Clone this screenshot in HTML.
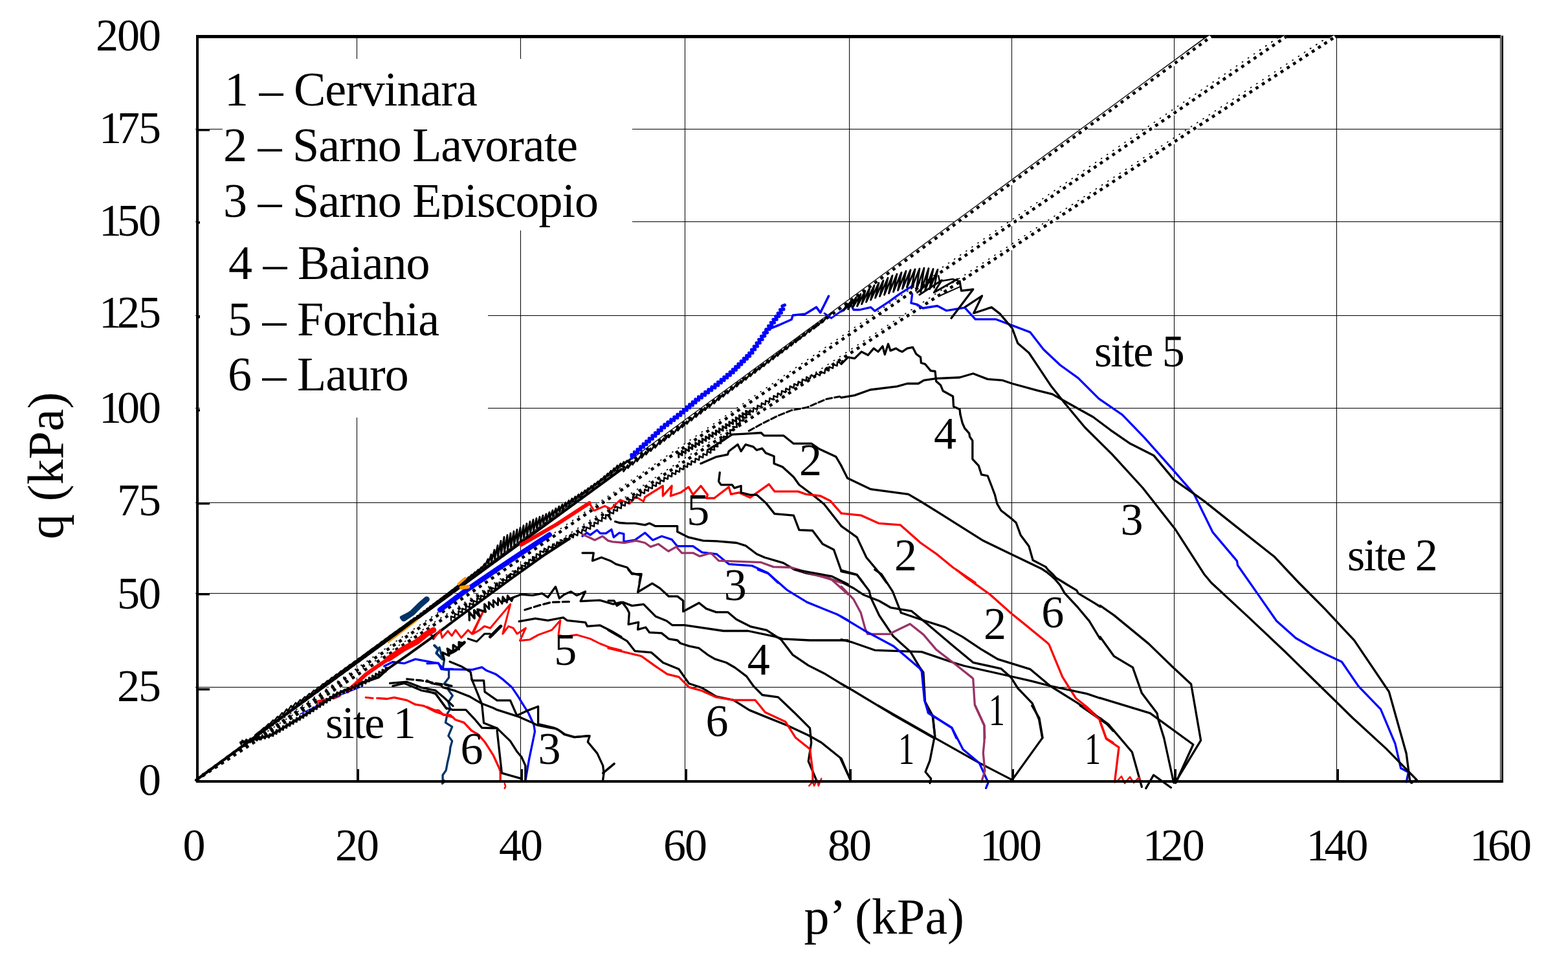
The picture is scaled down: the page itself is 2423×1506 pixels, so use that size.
<!DOCTYPE html><html><head><meta charset="utf-8"><title>q-p plot</title><style>html,body{margin:0;padding:0;background:#fff;}svg{display:block;}text{font-family:"Liberation Serif","Times New Roman",serif;fill:#000;}</style></head><body>
<svg xmlns="http://www.w3.org/2000/svg" width="2423" height="1506" viewBox="0 0 2423 1506">
<rect x="0" y="0" width="2423" height="1506" fill="#fff"/>
<g fill="#000"><rect x="551" y="59" width="1" height="1146"/><rect x="804" y="59" width="1" height="1146"/><rect x="1058" y="59" width="1" height="1146"/><rect x="1312" y="59" width="1" height="1146"/><rect x="1563" y="59" width="1" height="1146"/><rect x="1814" y="59" width="1" height="1146"/><rect x="2065" y="59" width="1" height="1146"/><rect x="2318" y="59" width="1" height="1146"/><rect x="302" y="199" width="2018" height="1"/><rect x="302" y="342" width="2018" height="1"/><rect x="302" y="487" width="2018" height="1"/><rect x="302" y="630" width="2018" height="1"/><rect x="302" y="776" width="2018" height="1"/><rect x="302" y="916" width="2018" height="1"/><rect x="302" y="1061" width="2018" height="1"/></g>
<g fill="#000"><rect x="551" y="1188" width="4" height="17"/><rect x="804" y="1188" width="4" height="17"/><rect x="1058" y="1188" width="4" height="17"/><rect x="1312" y="1188" width="4" height="17"/><rect x="1563" y="1188" width="4" height="17"/><rect x="1814" y="1188" width="4" height="17"/><rect x="2065" y="1188" width="4" height="17"/><rect x="305" y="199" width="19" height="3.5"/><rect x="305" y="342" width="19" height="3.5"/><rect x="305" y="488" width="19" height="3.5"/><rect x="305" y="632" width="19" height="3.5"/><rect x="305" y="776" width="19" height="3.5"/><rect x="305" y="916" width="19" height="3.5"/><rect x="305" y="1063" width="19" height="3.5"/></g>
<g fill="#fff"><rect x="344" y="91" width="633" height="265"/><rect x="309" y="300" width="668" height="56"/><rect x="309" y="356" width="445" height="289"/></g>
<defs><clipPath id="ctop"><rect x="0" y="40" width="2423" height="40"/></clipPath><clipPath id="cplot"><rect x="303" y="54" width="2020" height="1155"/></clipPath></defs>
<g clip-path="url(#cplot)"><g><line x1="303" y1="1205" x2="1871" y2="57" stroke="#fff" stroke-width="6"/><line x1="303" y1="1205" x2="1987" y2="57" stroke="#fff" stroke-width="6"/><line x1="303" y1="1205" x2="2063" y2="57" stroke="#fff" stroke-width="6"/><line x1="302" y1="1204" x2="1864" y2="57" stroke="#000" stroke-width="1.3"/><line x1="303" y1="1202" x2="1978" y2="56" stroke="#000" stroke-width="1.6" stroke-dasharray="2.5 8.5"/><line x1="303" y1="1202" x2="2054" y2="56" stroke="#000" stroke-width="1.6" stroke-dasharray="2.5 8.5"/><line x1="303" y1="1205" x2="1871" y2="57" stroke="#000" stroke-width="4.6" stroke-dasharray="4.8 6.7"/><line x1="303" y1="1205" x2="1987" y2="57" stroke="#000" stroke-width="4.6" stroke-dasharray="4.8 6.7"/><line x1="303" y1="1205" x2="2063" y2="57" stroke="#000" stroke-width="4.6" stroke-dasharray="4.8 6.7"/></g></g>
<polyline points="1300,481.1 1314.7,469.9 1319,478.5 1328.5,478.5 1345.7,474.6 1351.8,480.3 1374.2,465.6 1389.8,454.4 1411.4,440.6" fill="none" stroke="#0000ff" stroke-width="3.3" stroke-linejoin="round" stroke-linecap="round"/>
<polyline points="1409.6,454.4 1407.9,468.2 1417.4,470.4 1426,476 1448.5,472.5 1462.3,479.8 1490.8,475.1 1507.2,493.2 1539.1,493.2 1566.7,503.6 1591.8,513.1 1612.5,539.8 1638.4,564 1666,583.9 1698.1,615.8 1734.2,640.6 1768.1,675.6 1813.2,726.4 1844.8,762.6 1874.2,822.4 1911.4,866.4 1912.6,873.2 1944.2,918.4 1972.5,959 2002.6,985.8 2032.6,1003 2073.4,1022.3 2099.1,1059.9 2133.5,1095.3 2156,1148.9 2164.6,1186.5 2176.4,1192.9 2173.2,1207.9" fill="none" stroke="#0000ff" stroke-width="3.3" stroke-linejoin="round" stroke-linecap="round"/>
<polyline points="1483,434.5 1485.6,449.2 1503.7,447 1470,491.5" fill="none" stroke="#000" stroke-width="3.3" stroke-linejoin="round" stroke-linecap="round"/>
<polyline points="1491.6,474.2 1517.5,457 1504.6,483.7 1532.2,474.6 1545.1,484.6 1564.1,507 1572.8,530.3 1590,545 1603.8,565.7 1624.6,596.8 1645.3,622.7 1676.3,660 1718.4,701.6 1765.8,753.5 1815.5,816.7 1860.6,886.7 1871.7,900 1929.6,953.6 1985.4,1006.2 2039,1058.8 2090.6,1109.2 2142,1156.4 2189.3,1204.7 2180.7,1209" fill="none" stroke="#000" stroke-width="3.3" stroke-linejoin="round" stroke-linecap="round"/>
<polyline points="1300,614.1 1320.7,610.6 1344.9,602 1386.3,596.8 1401.9,592.5 1419.1,592.5 1427.8,587.3 1446.7,584.7 1483,583 1503.7,577 1526.2,585.6 1548.6,587.3 1564.1,592.5 1602.1,602.8 1626.3,608.9 1641.9,617.7 1666,631.3 1689,644 1716.1,664.3 1746.6,685.3 1782.7,703.4 1814.3,741.1 1844.8,762.6 1860.6,773.9 1910.3,813.4 1969,859.7 2006.9,900 2047.6,940.8 2092.7,989.1 2146.4,1068.5 2173.2,1164 2178.5,1204.7 2181.8,1209" fill="none" stroke="#000" stroke-width="3.3" stroke-linejoin="round" stroke-linecap="round"/>
<polyline points="1300,562.3 1310.4,551.9 1320.7,553.6 1331.1,543.3 1341.4,548.5 1350.1,538.1 1357,543.3 1363.9,534.7 1367.3,547.6 1372.5,531.2 1376,541.6 1384.6,538.1 1389.8,541.6 1394.1,543.3 1401.9,538.1 1410.5,536.4 1415.7,546.7 1422.6,551.9 1423.4,560.5 1429.5,562.3 1438.1,572.6 1445,573.5 1446.7,589 1453.6,595.1 1457.1,603.7 1472.6,612.3 1473.5,627.9 1483,632.2 1483.9,640" fill="none" stroke="#000" stroke-width="3.3" stroke-linejoin="round" stroke-linecap="round"/>
<polyline points="1700,935.4 1721.5,950.4 1775.1,994.4 1811.6,1029.8 1840.6,1056.7 1855.6,1143.6 1815.9,1209" fill="none" stroke="#000" stroke-width="3.3" stroke-linejoin="round" stroke-linecap="round"/>
<polyline points="1700,983.7 1721.5,1013.7 1750.4,1030.9 1764.4,1070.6 1788,1101.7 1790,1112 1798.7,1140 1813.7,1209" fill="none" stroke="#000" stroke-width="3.3" stroke-linejoin="round" stroke-linecap="round"/>
<polyline points="1700,1078.1 1777.3,1101.7 1843.8,1150 1817,1209" fill="none" stroke="#000" stroke-width="3.3" stroke-linejoin="round" stroke-linecap="round"/>
<polyline points="1700,1109.2 1712.9,1118.9 1749.4,1161.8 1764.4,1215.5" fill="none" stroke="#000" stroke-width="3.3" stroke-linejoin="round" stroke-linecap="round"/>
<polyline points="1700,1114.6 1709.7,1141.4 1729,1154.3 1722.5,1208" fill="none" stroke="#ff0000" stroke-width="3.3" stroke-linejoin="round" stroke-linecap="round"/>
<polyline points="1770.8,1217.6 1782.6,1197.2 1809.4,1216.5" fill="none" stroke="#000" stroke-width="3.3" stroke-linejoin="round" stroke-linecap="round"/>
<polyline points="1483.9,640 1487.3,653.8 1490.8,661.6 1497.7,669.3 1498.5,674.5 1502.8,680.6 1502.8,709.1 1512.3,719.4 1516.7,733.2 1526.2,735 1532.2,750.5 1537.4,764.3 1540.8,778.1 1546.9,788.5 1562.4,800.6 1570.2,807.5 1577.1,826.4 1590,843.7 1596.1,865.3 1615.9,875.6" fill="none" stroke="#000" stroke-width="3.3" stroke-linejoin="round" stroke-linecap="round"/>
<polyline points="1615.9,875.6 1619.5,880.2 1626.5,886.7 1632.1,892.8 1637.6,896 1649.7,903.5 1663.7,911.8 1666,916.3" fill="none" stroke="#000" stroke-width="3.3" stroke-linejoin="round" stroke-linecap="round"/>
<polyline points="1300,719.4 1309.5,738.4 1345.7,755.7 1403.6,763.4 1424.3,775.5 1456.2,795.4 1519.2,835.1 1564.1,856.7 1609,878.2" fill="none" stroke="#000" stroke-width="3.3" stroke-linejoin="round" stroke-linecap="round"/>
<polyline points="1609,878.2 1617.2,883.5 1624.2,889.1 1631.1,895.6 1638.1,903.9 1645.3,916.3" fill="none" stroke="#000" stroke-width="3.3" stroke-linejoin="round" stroke-linecap="round"/>
<polyline points="1300,792.8 1331.1,796.2 1357.8,808.3 1391.5,810.9 1422.6,838.5 1448.5,856.7 1472.6,876.5 1507.2,900" fill="none" stroke="#ff0000" stroke-width="3.3" stroke-linejoin="round" stroke-linecap="round"/>
<polyline points="1300,812.6 1324.2,829.9 1338.8,861 1360.4,886.9 1369.9,900" fill="none" stroke="#000" stroke-width="3.3" stroke-linejoin="round" stroke-linecap="round"/>
<polyline points="1300,880.8 1324.2,887.7 1333.7,900" fill="none" stroke="#000" stroke-width="3.3" stroke-linejoin="round" stroke-linecap="round"/>
<polyline points="1477.8,880 1493.4,892.1 1529.6,918 1562.4,947.3 1579.7,961.1 1617.7,992.2 1621.1,995.7 1641.8,1045.7 1662.5,1078.5 1679.8,1092.3 1700,1111.3" fill="none" stroke="#ff0000" stroke-width="3.3" stroke-linejoin="round" stroke-linecap="round"/>
<polyline points="1666,916.3 1691.9,931.8 1700,937" fill="none" stroke="#000" stroke-width="3.3" stroke-linejoin="round" stroke-linecap="round"/>
<polyline points="1645.3,916.3 1666,938.7 1683.3,959.4 1700,987" fill="none" stroke="#000" stroke-width="3.3" stroke-linejoin="round" stroke-linecap="round"/>
<polyline points="1300,882.6 1324.2,887.8 1343.2,912.8 1345.7,923.2 1358.7,950.8 1380.3,982.7 1407,1006.9 1420.8,1030.2 1426.9,1038.8 1429.5,1083.7 1441.6,1106.2 1445,1140" fill="none" stroke="#000" stroke-width="3.3" stroke-linejoin="round" stroke-linecap="round"/>
<polyline points="1351.8,880 1362.1,886.9 1379.4,913.7 1392.4,946.5" fill="none" stroke="#000" stroke-width="3.3" stroke-linejoin="round" stroke-linecap="round"/>
<polyline points="1300,899 1319,908.5 1334.5,918.8 1358.7,928.3 1376.8,938.7 1393.2,941.3 1408.8,943.9 1429.5,961.1 1472.6,997.4 1503.7,1023.3 1546.9,1032.8 1562.4,1046.6 1572.8,1063 1595.2,1086.3 1605.6,1111.3 1610.7,1140" fill="none" stroke="#000" stroke-width="3.3" stroke-linejoin="round" stroke-linecap="round"/>
<polyline points="1392.4,946.5 1427.8,958.5 1460.6,968.9 1487.3,983.6 1515.8,1002.6 1541.7,1018.1 1591.8,1033.6 1622.8,1059.5 1664.3,1085.4 1700,1109.6" fill="none" stroke="#000" stroke-width="3.3" stroke-linejoin="round" stroke-linecap="round"/>
<polyline points="1300,987.9 1317.3,992.2 1351.8,1004.3 1424.3,1006.9 1472.6,1023.3 1489.9,1028.5 1559,1044 1593.5,1051.8 1622.8,1059.5 1679.8,1071.6 1700,1078.5" fill="none" stroke="#000" stroke-width="3.3" stroke-linejoin="round" stroke-linecap="round"/>
<polyline points="1300,1056.1 1312.1,1063 1377.7,1102.7 1443.3,1140" fill="none" stroke="#000" stroke-width="3.3" stroke-linejoin="round" stroke-linecap="round"/>
<polyline points="1300,905.9 1319,925.7 1330.2,946.5 1337.1,971.5 1340.6,979.3 1375.1,979.3 1379.4,976.7 1406.2,963.7 1426.9,980.1 1446.7,1003.4 1472.6,1023.3 1502,1046.6 1503.7,1048.3 1506.3,1088.9 1521,1120.8 1521.8,1140" fill="none" stroke="#993366" stroke-width="3.3" stroke-linejoin="round" stroke-linecap="round"/>
<polyline points="1300,952.5 1334.5,973.2 1381.1,998.3 1420.8,1031.9 1424.3,1037.1 1428.6,1082 1434.7,1101 1470.9,1124.3 1477.8,1140" fill="none" stroke="#0000ff" stroke-width="3.3" stroke-linejoin="round" stroke-linecap="round"/>
<polyline points="1357.2,1090 1443.9,1139.4 1513.2,1178.4 1563.5,1204.4" fill="none" stroke="#000" stroke-width="3.3" stroke-linejoin="round" stroke-linecap="round"/>
<polyline points="1594.7,1090 1605.9,1109.1 1611.1,1139.4 1564.3,1204.4" fill="none" stroke="#000" stroke-width="3.3" stroke-linejoin="round" stroke-linecap="round"/>
<polyline points="1431.7,1090 1441.3,1107.3 1444.7,1136.8 1443,1143.7 1436.9,1174.9 1430,1192.3 1438.7,1202.7 1436.9,1209.6" fill="none" stroke="#000" stroke-width="3.3" stroke-linejoin="round" stroke-linecap="round"/>
<polyline points="1431.7,1090 1434.3,1101.3 1470.7,1123.8 1488.1,1157.6 1513.2,1178.4 1527.1,1208.7 1523.6,1217.4" fill="none" stroke="#0000ff" stroke-width="3.3" stroke-linejoin="round" stroke-linecap="round"/>
<polyline points="1507.1,1090 1521,1120.3 1521,1145.5 1519.3,1162.8 1521.9,1190.5 1516.7,1207.9" fill="none" stroke="#993366" stroke-width="3.3" stroke-linejoin="round" stroke-linecap="round"/>
<polyline points="1300,1171.5 1313,1202.7" fill="none" stroke="#000" stroke-width="3.3" stroke-linejoin="round" stroke-linecap="round"/>
<polyline points="1669.2,1090 1710.8,1118.6 1720,1129" fill="none" stroke="#000" stroke-width="3.3" stroke-linejoin="round" stroke-linecap="round"/>
<polyline points="1674.4,1090 1698.7,1110.8 1709.1,1140.3 1720,1147.2" fill="none" stroke="#ff0000" stroke-width="3.3" stroke-linejoin="round" stroke-linecap="round"/>
<polyline points="1093.4,695.2 1115.8,681.4 1131.3,671.1 1150.3,670.2 1176.2,668.5 1180.5,672.8 1210.7,672.8 1226.3,685.2 1253.9,685.2 1266,693.5 1291.9,705.6 1300,719.4" fill="none" stroke="#000" stroke-width="3.3" stroke-linejoin="round" stroke-linecap="round"/>
<polyline points="1083,716 1107.2,705.6 1124.4,702.1 1126.2,697 1140,686.6 1145.1,697 1152.1,686.6 1164.1,690.1 1169.3,695.2 1177.9,692.7 1183.1,699.6 1196.1,704.7 1196.1,716 1209,721.1 1226.3,736.7 1234.9,748.8 1255.6,764.3 1272.9,778.1 1300,812.6" fill="none" stroke="#000" stroke-width="3.3" stroke-linejoin="round" stroke-linecap="round"/>
<polyline points="996.7,767.8 1024.3,750.5 1024.3,766 1038.1,750.5 1036.4,766 1051.9,760.8 1064,752.2 1070.9,764.3 1083,750.5 1093.4,764.3 1091.6,769.5 1103.7,769.5 1126.2,752.2 1129.6,763.4 1141.7,760.8 1159,768.6 1188.3,747.9 1196.9,759.1 1233.2,759.1 1245.3,763.4 1267.7,766 1283.3,773.8 1300,792.8" fill="none" stroke="#ff0000" stroke-width="3.3" stroke-linejoin="round" stroke-linecap="round"/>
<polyline points="1112.3,729.8 1110.6,743.6 1114.1,748.8 1131.3,748.8 1134.8,753.9 1145.1,750.5 1145.1,760.8 1159,764.3 1169.3,764.3 1183.1,776.4 1196.9,793.6 1226.3,796.2 1234.9,818.7 1255.6,819.5 1271.2,840.3 1288.4,848.9 1300,881.7" fill="none" stroke="#000" stroke-width="3.3" stroke-linejoin="round" stroke-linecap="round"/>
<polyline points="957,807.5 969.1,808.3 981.1,808.3 996.7,810.9 1003.6,808.3 1012.2,812.6 1046.7,812.6 1046.7,821.3 1064,829.9 1086.4,835.1 1107.2,835.9 1138.2,838.5 1152.1,842.8 1169.3,855.8 1181.4,861 1210.7,869.6 1228,880 1245.3,885.1 1271.2,890.3 1300,900" fill="none" stroke="#000" stroke-width="3.3" stroke-linejoin="round" stroke-linecap="round"/>
<polyline points="939.7,795.4 944.9,804 957,807.5" fill="none" stroke="#000" stroke-width="3.3" stroke-linejoin="round" stroke-linecap="round" stroke-dasharray="8 8"/>
<polyline points="900,828.2 906.9,823 912.1,826.4 922.4,818.7 927.6,823.9 936.3,823.9 944.9,817.8 948.3,829.9 957,823 963.9,824.7 963.9,836.8 981.1,834.2 996.7,823 1008.8,834.2 1022.6,828.2 1038.1,833.4 1046.7,843.7 1070.9,843.7 1084.7,853.2 1107.2,855.8 1126.2,871.3 1162.4,873.9 1186.6,885.1 1202.1,900" fill="none" stroke="#0000ff" stroke-width="3.3" stroke-linejoin="round" stroke-linecap="round"/>
<polyline points="900,825.6 910.4,829.9 919,834.2 931.1,828.2 939.7,835.1 946.6,836.8 965.6,838.5 982.9,835.1 996.7,838.5 1005.3,844.6 1017.4,840.3 1032.9,851.5 1045,844.6 1053.6,854.1 1070.9,854.1 1081.3,859.2 1098.5,854.1 1110.6,866.2 1176.2,868.7 1195.2,875.6 1222.8,876.5 1245.3,883.4 1300,900" fill="none" stroke="#993366" stroke-width="3.3" stroke-linejoin="round" stroke-linecap="round"/>
<polyline points="900,854.1 917.3,854.1 915.5,866.2 929.3,861 943.2,866.2 951.8,871.3 969.1,876.5 976,885.1 989.8,888.6 988,900" fill="none" stroke="#000" stroke-width="3.3" stroke-linejoin="round" stroke-linecap="round"/>
<polyline points="303,1205 960,725" fill="none" stroke="#000" stroke-width="4.2" stroke-linejoin="round" stroke-linecap="round"/>
<polyline points="963,723.8 963.5,728.2 970,718.6 970.5,723 977,713.4 977.5,717.7 984,708.2 984.5,712.5 991,702.9 991.5,707.2 998,697.7 998.5,702 1005,692.5 1005.5,696.7 1012,687.2 1012.5,691.5 1019,682 1019.5,686.2 1026,676.8 1026.5,681 1033,671.6 1033.5,675.7 1040,666.3 1040.5,670.5 1047,661.1 1047.5,665.2 1054,655.9 1054.5,660 1061,650.7 1061.5,654.7 1068,645.4 1068.5,649.5 1075,640.2 1075.5,644.2 1082,635 1082.5,639 1089,629.7 1089.5,633.7 1096,624.5 1096.5,628.5 1103,619.3 1103.5,623.2 1110,614.1 1110.5,618 1117,608.8 1117.5,612.7 1124,603.6 1124.5,607.5 1131,598.4 1131.5,602.2 1138,593.2 1138.5,597 1145,587.9 1145.5,591.7 1152,582.7 1152.5,586.5 1159,577.5 1159.5,581.2 1166,572.3 1166.5,576 1173,567 1173.5,570.8 1180,561.8 1180.5,565.5 1187,556.6 1187.5,560.3 1194,551.3 1194.5,555 1201,546.1 1201.5,549.8 1208,540.9 1208.5,544.5 1215,535.7 1215.5,539.3 1222,530.4 1222.5,534 1229,525.2 1229.5,528.8 1236,520 1236.5,523.5 1243,514.8 1243.5,518.3 1250,509.5 1250.5,513 1257,504.3 1257.5,507.8 1264,499.1 1264.5,502.5 1271,493.9 1271.5,497.3 1278,488.6 1278.5,492 1285,483.4" fill="none" stroke="#000" stroke-width="2.8" stroke-linejoin="round" stroke-linecap="round"/>
<polyline points="634,961.6 634.5,958.8 639,957.7 639.5,955.2 644,953.8 644.5,951.5 649,949.9 649.5,947.8 654,946.1 654.5,944.2 659,942.2 659.5,940.5 664,938.3 664.5,936.8 669,934.4 669.5,933.1 674,930.5 674.5,929.5 679,926.6 679.5,925.8 684,922.7 684.5,922.1 689,918.9 689.5,918.5 694,915 694.5,914.8 699,911.1 699.5,911.1 704,907.2 704.5,907.4 709,903.3 709.5,903.8 714,899.4 714.5,900.1 719,895.5 719.5,896.4 724,891.6 724.5,892.8 729,887.7 729.5,889.1 734,883.8 734.5,885.4 739,879.9 739.5,881.7 744,876 744.5,878.1 749,870.8 749.5,874.4 754,863.6 754.5,870.7 759,856.3 759.5,867.1 764,849.3 764.5,863.4 769,842.4 769.5,859.7 774,835.5 774.5,856 779,829.4 779.5,852.4 784,826.5 784.5,848.7 789,823.6 789.5,845 794,820.7 794.5,841.4 799,817.8 799.5,837.7 804,814.9 804.5,834 809,811.7 809.5,830.3 814,808.6 814.5,826.7 819,805.5 819.5,823 824,802.7 824.5,819.3 829,800.5 829.5,815.7 834,798.3 834.5,812 839,796.1 839.5,808.3 844,793.9 844.5,804.6 849,791.2 849.5,801 854,788.2 854.5,797.3 859,785.2 859.5,793.6 864,782.1 864.5,790 869,779.1 869.5,786.3 874,776.1 874.5,782.6 879,773 879.5,778.9 884,769.9 884.5,775.3 889,766.9 889.5,771.6 894,763.8 894.5,767.9 899,760.7 899.5,764.3 904,757.5 904.5,760.6 909,754.1 909.5,756.9 914,750.6 914.5,753.2 919,747.1 919.5,749.6 924,743.7 924.5,745.9 929,739.7 929.5,742.2 934,735.5 934.5,738.6 939,731.4 939.5,734.9 944,727.2 944.5,731.2 949,723.1 949.5,727.5 954,718.9 954.5,723.9 959,715.9 959.5,720.2 964,713.6 964.5,716.5 969,711.4 969.5,712.9 974,709.2 974.5,709.2" fill="none" stroke="#000" stroke-width="2.8" stroke-linejoin="round" stroke-linecap="round"/>
<polyline points="680,942 720,912 767,880 803,856 849,826" fill="none" stroke="#0000ff" stroke-width="8" stroke-linejoin="round" stroke-linecap="round"/>
<polyline points="976.5,707.6 975.8,702.3 981,703.4 980.3,698.1 985.6,699.3 984.9,693.9 990.1,695.1 989.4,689.7 994.7,690.9 994,685.6 999.2,686.7 998.5,681.4 1003.8,682.4 1003.1,677.1 1008.5,678.1 1007.8,672.7 1013.1,673.8 1012.4,668.4 1017.7,669.5 1017,664.1 1022.4,665.1 1021.7,659.8 1026.8,660.9 1026.7,655.5 1031.9,657.1 1031.7,651.7 1036.9,653.2 1036.7,647.8 1041.9,649.4 1041.7,644 1046.9,645.5 1046.7,640.1 1051.9,641.7 1051.7,636.3 1056.8,637.7 1056.3,632.4 1061.4,633.8 1060.9,628.5 1066,629.9 1065.5,624.6 1070.6,626 1070.1,620.7 1075.2,622.1 1074.7,616.8 1079.8,618.2 1079.4,612.8 1084.6,614.5 1084.5,609 1089.7,610.6 1089.6,605.2 1094.8,606.8 1094.7,601.4 1099.9,603 1099.8,597.6 1105,599.2 1104.8,593.8 1109.9,595.3 1109.4,589.9 1114.6,591.4 1114.1,586.1 1119.2,587.5 1118.7,582.2 1123.8,583.6 1123.3,578.3 1128.5,579.8 1128,574.4 1133.3,575.8 1132.3,570.5 1137.5,571.5 1136.5,566.3 1141.8,567.3 1140.8,562 1146,563 1145.1,557.8 1150.3,558.8 1149.3,553.5 1154.6,554.5 1153.6,549.3 1158.8,550.3 1157.6,545.3 1163.1,545.3 1161.4,540.1 1166.8,540.1 1165.2,534.9 1170.6,534.9 1169,529.7 1174.4,529.7 1172.7,524.5 1178.2,524.5 1176.4,519.3 1181.9,519.2 1180.1,514 1185.6,513.9 1183.8,508.7 1189.3,508.6 1187.5,503.4 1193,503.3 1191.3,498.2 1196.6,498.5 1194.9,493.4 1200.3,493.6 1198.6,488.5 1203.9,488.8 1202.1,483.8 1207.6,483.4 1205.5,478.3 1211,477.9 1208.9,472.8 1212.5,471.2" fill="none" stroke="#0000ff" stroke-width="5" stroke-linejoin="round" stroke-linecap="round"/>
<polyline points="1182.7,510.5 1204,502 1223.1,493.5 1225.2,487.1 1244.4,485 1261.4,474.4 1267.7,482.9 1280.5,457.4" fill="none" stroke="#0000ff" stroke-width="3.5" stroke-linejoin="round" stroke-linecap="round"/>
<polyline points="1274,484 1284.7,491.4 1314.5,470.1" fill="none" stroke="#0000ff" stroke-width="3" stroke-linejoin="round" stroke-linecap="round"/>
<polyline points="805.5,841.4 860,810 910.7,776.9" fill="none" stroke="#ff0000" stroke-width="6" stroke-linejoin="round" stroke-linecap="round"/>
<polyline points="910.7,776.9 917.9,788.8 934.6,781.6 944,786 958.5,772.1 972.8,778.1 982.4,767.3 994.4,774.5 996.7,767.8" fill="none" stroke="#ff0000" stroke-width="3" stroke-linejoin="round" stroke-linecap="round"/>
<polyline points="697,958.1 697,952 702.8,954.1 702.8,948 708.5,950.1 708.5,944 714.2,946.1 714.2,940 720,942.1 720,936 725.7,938.1 725.7,932 731.4,934.1 731.5,927.9 737.2,930 737.2,923.9 742.9,926 742.9,919.9 748.7,922 748.7,915.9 754.4,918 754.4,911.9 760.1,914 760.1,907.9 765.9,910 765.8,903.9 771.7,905.7 771.5,899.5 777.4,901.3 777.3,895.1 783.2,896.9 783,890.7 788.9,892.5 788.7,886.3 794.6,888.1 794.5,882 800.4,883.7 800.2,877.6 806.1,879.3 805.9,873.2 811.8,874.9 811.7,868.8 817.6,870.6 817.4,864.4 823.3,866.2 823.1,860 829,861.8 828.9,855.6 834.8,857.4 834.6,851.2 840.1,853.2 841.1,847.1 846.6,850 847.7,843.9 853.2,846.7 854.2,840.6 859.7,843.4 860.7,837.3 866.2,840.2 867.2,834.1 872.7,836.9 873.7,830.8 879.2,833.7 880.2,827.6 885.7,830.4 886.8,824.3 892.3,827.1 893.3,821 898.8,823.9 899.8,817.8 905.3,820.6 906.3,814.5 912.1,817.2 912.3,811 918.1,813.2 918.3,807 924,809.2 924.3,803.1 930,805.2 930.2,799.1 936,801.2 936.2,795.1 942,797.3 942.2,791.1 947.9,793.3 948.2,787.1 953.9,789.3 954.1,783.1 959.9,785.3 960.1,779.2 965.9,781.3 966.1,775.2 971.8,777.3 972.1,771.2 977.8,773.4 978,767.2 983.7,769.4 984.1,763.3 989.7,765.8 990.1,759.7 995.8,762.1 996.2,756 1001.8,758.4 1002.2,752.3 1007.8,754.7 1008.2,748.6 1013.9,751 1014.3,744.9 1019.9,747.4 1020.3,741.3 1025.9,743.7 1026.3,737.6 1031.9,740 1032.4,733.9 1038,736.3 1038.4,730.2 1044,732.7 1044.4,726.6 1050,729 1050.5,722.9 1056.1,725.3 1056.5,719.2 1062.1,721.6 1062.5,715.5 1068.1,718 1068.5,711.9 1074.2,714.3 1074.6,708.2 1080.2,710.6 1080.6,704.5 1086.2,706.9 1086.6,700.8 1092.3,703.2 1092.7,697.1 1098.3,699.6 1098.2,693.8 1104.2,694.9 1103.2,688.9 1109.2,689.9 1108.1,683.9 1114.1,684.9 1113.1,678.9 1119.1,680 1118,674 1124,675 1123,669 1129,670 1127.9,664 1133.9,665.1 1132.9,659.1 1138.9,660.1 1137.8,654.1 1143.8,655.1 1142.8,649.1 1148.8,650.2 1147.7,644.2 1153.7,645.2 1152.7,639.2 1158.7,640.2 1158.1,633.9 1163.8,636.3 1164.4,630.1 1170.1,632.5 1170.6,626.3 1176.3,628.7 1176.9,622.6 1182.6,625 1183.1,618.8 1188.8,621.2 1189.3,615 1195,617.4 1195.6,611.3 1201.3,613.7 1201.8,607.5 1207.5,609.9 1208.1,603.7 1213.7,606.2 1214.5,600 1220.1,602.6 1220.8,596.5 1226.5,599.1 1227.2,592.9 1232.8,595.5 1233.6,589.4 1239.2,592 1239.9,585.8 1245.6,588.4 1246.3,582.3 1251.5,585.1 1253.8,579.1 1259.2,582.6 1261.4,576.5 1266.8,580 1268.6,574.3 1274.4,576.6 1275,570.4 1280.7,572.8 1281.3,566.6 1287.1,568.9 1287.7,562.7 1293.5,565.1 1294,558.9 1299.8,561.3 1301.7,557.2" fill="none" stroke="#000" stroke-width="2.5" stroke-linejoin="round" stroke-linecap="round"/>
<polyline points="1048.8,706.3 1048.4,699.6 1054.1,703.1 1053.6,696.4 1059.4,700 1058.9,693.2 1064.6,696.8 1064.2,690.1 1069.9,693.7 1069.4,686.9 1075.1,690.5 1074.7,683.8 1080.4,687.4 1079.9,680.6 1085.6,684.2 1085.2,677.5 1090.9,681.1 1090.4,674.3 1096.1,677.9 1095.7,671.2 1101.4,674.8 1100.9,668 1106.7,671.6 1106.2,664.9 1111.9,668.4 1111.3,661.8 1117.2,665.1 1116.5,658.4 1122.4,661.7 1121.7,655 1127.5,658.3 1126.8,651.6 1132.7,654.9 1132,648.2 1137.9,651.5 1137.1,644.8 1143,648.1 1142.3,641.4 1148.2,644.7 1147.4,638 1153.3,641.3 1152.6,634.6 1158.5,637.9 1159.4,633.7" fill="none" stroke="#000" stroke-width="3" stroke-linejoin="round" stroke-linecap="round"/>
<polyline points="1157.2,665.6 1176.4,655 1201.9,642.3 1223.1,633.7 1246.5,629.5 1261.4,623.1 1276.2,616.7 1297.5,612.5 1300,614.1" fill="none" stroke="#000" stroke-width="3" stroke-linejoin="round" stroke-linecap="round" stroke-dasharray="9 4"/>
<polyline points="1309,469 1303.5,479.9 1316,464.1 1310.5,477.6 1323,459.2 1317.5,475.3 1330,454.3 1324.5,473 1337,449.4 1331.5,469.9 1344,444.6 1338.5,466.6 1351,440.8 1345.5,463.3 1358,436.9 1352.5,460.2 1365,433.1 1359.5,457.8 1372,429.2 1366.5,455.5 1379,425.6 1373.5,453.2 1386,423.3 1380.5,450.9 1393,420.9 1387.5,448.5 1400,418.6 1394.5,446.2 1407,416.9 1401.5,443.9 1414,415.9 1408.5,445.7 1421,415 1415.5,449.2 1428,414 1422.5,451.2 1435,414.5 1429.5,448.9 1442,415.4 1436.5,446.6 1449,416.4 1443.5,444.3" fill="none" stroke="#000" stroke-width="2.8" stroke-linejoin="round" stroke-linecap="round"/>
<polyline points="1417.4,451.8 1443.3,429.3" fill="none" stroke="#000" stroke-width="3" stroke-linejoin="round" stroke-linecap="round"/>
<polyline points="1420.8,455.2 1455.4,432.8 1443.3,451.8 1479.5,431.1" fill="none" stroke="#000" stroke-width="3" stroke-linejoin="round" stroke-linecap="round"/>
<polyline points="1451.9,457 1483,443.2" fill="none" stroke="#000" stroke-width="2" stroke-linejoin="round" stroke-linecap="round"/>
<polyline points="1450.2,425.9 1451.9,434.5 1472.6,431.1 1483,434.5" fill="none" stroke="#000" stroke-width="2.5" stroke-linejoin="round" stroke-linecap="round"/>
<polyline points="971.1,880 976.7,886.7 991.2,886.7 985.6,914.5 1007.9,901.1 1020.1,908.9 1033.4,921.2 1046.8,921.2 1055.7,927.8 1055.7,944.5 1080.2,931.2 1091.3,940.1 1106.9,945.6 1124.6,945.6 1138,956.8 1160.2,967.9 1184.7,973.4 1207,987.9 1224.8,1011.3 1249.2,1027.9 1273.7,1040.2 1310,1062.4" fill="none" stroke="#000" stroke-width="3.3" stroke-linejoin="round" stroke-linecap="round"/>
<polyline points="940,927.8 948.9,927.8 953.3,935.6 962.2,930.1 976.7,935.6 994.5,933.4 1013.4,952.3 1030.1,959 1039,965.7 1057.9,965.7 1118,974.5 1155.8,974.5 1198.1,983.4 1209.2,986.8 1251.5,989 1310,989" fill="none" stroke="#000" stroke-width="3.3" stroke-linejoin="round" stroke-linecap="round"/>
<polyline points="940,973.4 968.9,990.1 981.2,1005.7 1006.7,1007.9 1024.5,1023.5 1049,1033.5 1064.6,1055.8 1084.6,1062.4 1106.9,1075.8 1133.5,1081.3 1158,1096.9 1182.5,1106.9 1215.9,1120.3 1249.2,1135.8 1269.3,1147 1298.2,1170.3 1310,1195.9" fill="none" stroke="#000" stroke-width="3.3" stroke-linejoin="round" stroke-linecap="round"/>
<polyline points="962.2,931.2 968.9,940.1 972.3,946.7 971.1,964.5 986.7,961.2 985.6,972.3 997.8,969 1003.4,976.8 1022.3,977.9 1033.4,986.8 1046.8,989 1051.2,993.5 1064.6,997.9 1080.2,1001.2 1093.5,1011.3 1104.6,1017.9 1122.4,1023.5 1135.8,1031.3 1153.6,1044.6 1164.7,1060.2 1178,1073.5 1202.5,1076.9 1227,1100.2 1251.5,1124.7 1253.7,1147 1249.2,1175.9 1255.9,1191.5 1261.5,1204.8" fill="none" stroke="#000" stroke-width="3.3" stroke-linejoin="round" stroke-linecap="round"/>
<polyline points="940,1001.2 991.2,1013.5 1011.2,1027.9 1031.2,1041.3 1049,1045.7 1064.6,1061.3 1084.6,1066.9 1106.9,1076.9 1133.5,1081.3 1166.9,1081.3 1182.5,1100.2 1213.6,1114.7 1229.2,1139.2 1251.5,1157 1255.9,1191.5 1255.9,1209.3" fill="none" stroke="#ff0000" stroke-width="3.3" stroke-linejoin="round" stroke-linecap="round"/>
<polyline points="1250.3,1213.7 1255.9,1207 1258.1,1213.7 1262.6,1204.8 1264.8,1213.7 1269.3,1202.6" fill="none" stroke="#ff0000" stroke-width="2.5" stroke-linejoin="round" stroke-linecap="round"/>
<polyline points="1171.4,880 1186.9,885.6 1215.9,911.1 1247,930.1 1293.7,949 1310,957.9" fill="none" stroke="#0000ff" stroke-width="3.3" stroke-linejoin="round" stroke-linecap="round"/>
<polyline points="1229.2,880 1280.4,891.1 1310,917.8" fill="none" stroke="#993366" stroke-width="3.3" stroke-linejoin="round" stroke-linecap="round"/>
<polyline points="1229.2,880 1284.8,890 1310,902.2" fill="none" stroke="#000" stroke-width="3.3" stroke-linejoin="round" stroke-linecap="round"/>
<polyline points="683.4,1210.3 687.7,1206.7 684.1,1204.5 684.1,1197.2 689.2,1189.9 691.4,1178.2 695.1,1162.1 695.8,1154.8 698.7,1144.6 692.9,1136.6 698.7,1122.7 688.5,1116.1 691.4,1102.2 695.8,1094.9 692.9,1084.7 699.4,1074.5 692.9,1065.7 693.6,1058.4 686.3,1056.2 693.6,1046.7 693.6,1035.1 684.1,1033.6 686.3,1020.4 683.4,1016.1 679,1000" fill="none" stroke="#003366" stroke-width="3.3" stroke-linejoin="round" stroke-linecap="round"/>
<polyline points="660,1092 671.7,1097.1 677.5,1097.1 685.6,1104.4 695.8,1104.4 703.8,1111.7 717,1116.1 728.6,1128.5 738.9,1134.4 749.1,1146 754.9,1154.8 762.2,1166.5 771,1185.5 773.2,1191.3 773.2,1207.4" fill="none" stroke="#ff0000" stroke-width="3.3" stroke-linejoin="round" stroke-linecap="round"/>
<polyline points="779.8,1210.3 781.2,1214.7 779.8,1217.6" fill="none" stroke="#ff0000" stroke-width="2.5" stroke-linejoin="round" stroke-linecap="round"/>
<polyline points="660,1024.8 677.5,1024.1 681.9,1033.6 730.1,1034.3 744.7,1030.7 752,1035.8 766.6,1041.6 778.3,1050.4 791.4,1062.1 801.7,1077.4 806,1084.7 816.3,1100.8 825,1119.8 826.5,1130 817.7,1172.3 811.9,1205.9" fill="none" stroke="#0000ff" stroke-width="3.3" stroke-linejoin="round" stroke-linecap="round"/>
<polyline points="660,1067.2 673.1,1071.6 689.2,1093.5 699.4,1096.4 719.9,1096.4 733,1110.3 744.7,1124.1 768.1,1124.9 788.5,1144.6 798.7,1160.7 806,1169.4 811.9,1182.6 811.9,1204.5" fill="none" stroke="#000" stroke-width="3.3" stroke-linejoin="round" stroke-linecap="round"/>
<polyline points="660,1051.1 667.3,1055.5 681.9,1058.4 683.4,1061.3 703.8,1067.2 725.7,1075.9 743.2,1086.2 762.2,1093.5 768.1,1096.4 800.2,1106.6 820.7,1115.4 829.4,1119.8 849.9,1124.1 860.1,1125.6 873.2,1134.4 887.8,1138.7 908.3,1136.6" fill="none" stroke="#000" stroke-width="3.3" stroke-linejoin="round" stroke-linecap="round"/>
<polyline points="695.1,1021.9 712.6,1029.2 727.2,1038 729.4,1051.1 747.6,1051.1 749.1,1068.6 768.1,1081.8 788.5,1081.8 798.7,1105.2 816.3,1097.1 831.6,1091.3 831.6,1118.3 855.7,1124.1 864.5,1128.5 871.8,1134.4 887.8,1138.7 911.2,1136.6 908.3,1146 922.9,1163.6 931.7,1182.6 933.1,1194.2 931.7,1204.5" fill="none" stroke="#000" stroke-width="3.3" stroke-linejoin="round" stroke-linecap="round"/>
<polyline points="931.7,1194.2 949.2,1179.6" fill="none" stroke="#000" stroke-width="3.5" stroke-linejoin="round" stroke-linecap="round"/>
<polyline points="728.6,1048.2 744.7,1087.6 747.6,1116.8 768.1,1124.9" fill="none" stroke="#000" stroke-width="3.3" stroke-linejoin="round" stroke-linecap="round"/>
<polyline points="768.1,1128.5 775.4,1194.2 804.6,1202.3" fill="none" stroke="#000" stroke-width="3.3" stroke-linejoin="round" stroke-linecap="round"/>
<polyline points="565.2,1077.3 576.2,1078.4" fill="none" stroke="#ff0000" stroke-width="3" stroke-linejoin="round" stroke-linecap="round"/>
<polyline points="582.7,1078.4 598.1,1079.5 609,1077.3 628.8,1081.6 641.9,1088.2 655.1,1090.4 672.6,1099.2 685.8,1103.6 700,1107.9" fill="none" stroke="#ff0000" stroke-width="3.3" stroke-linejoin="round" stroke-linecap="round"/>
<polyline points="602.5,1055.3 628.8,1053.2 650.7,1061.9 672.6,1066.3 685.8,1077.3 700,1090.4" fill="none" stroke="#000" stroke-width="3.3" stroke-linejoin="round" stroke-linecap="round"/>
<polyline points="606.8,1059.7 624.4,1055.3 650.7,1066.3 672.6,1070.7 690.1,1094.8" fill="none" stroke="#000" stroke-width="3.3" stroke-linejoin="round" stroke-linecap="round"/>
<polyline points="593.7,1029 606.8,1022.5 624.4,1024.7 641.9,1018.1 677,1024.7 685.8,1033.4 700,1033.4" fill="none" stroke="#0000ff" stroke-width="3.3" stroke-linejoin="round" stroke-linecap="round"/>
<polyline points="628.8,1048.8 650.7,1051 672.6,1055.3 700,1059.7" fill="none" stroke="#000" stroke-width="3.3" stroke-linejoin="round" stroke-linecap="round" stroke-dasharray="10 5"/>
<polyline points="623.8,955.4 637.1,946.5 649,934.6 659.4,925.7" fill="none" stroke="#003366" stroke-width="9" stroke-linejoin="round" stroke-linecap="round"/>
<polyline points="620.8,953.9 629.7,949.4" fill="none" stroke="#003366" stroke-width="6" stroke-linejoin="round" stroke-linecap="round"/>
<polyline points="662.4,973.2 669.8,986.6" fill="none" stroke="#003366" stroke-width="4" stroke-linejoin="round" stroke-linecap="round"/>
<polyline points="671.3,997 677.3,1002.9 674.3,1008.9 683.2,1017.8" fill="none" stroke="#003366" stroke-width="4" stroke-linejoin="round" stroke-linecap="round"/>
<polyline points="708.5,901.9 718.9,893" fill="none" stroke="#ff9900" stroke-width="4" stroke-linejoin="round" stroke-linecap="round"/>
<polyline points="712.9,907.8 723.3,906.3" fill="none" stroke="#ff9900" stroke-width="6" stroke-linejoin="round" stroke-linecap="round"/>
<polyline points="600,992.5 644.6,958.3" fill="none" stroke="#ff9900" stroke-width="2" stroke-linejoin="round" stroke-linecap="round"/>
<polyline points="372,1147 418,1136 470,1105 519,1073 550,1058 585,1046 600,1032.6 629.7,1011.8 666.9,985.1 704,956.9 748.6,924.2 793.1,891.5 840,858 880,832" fill="none" stroke="#000" stroke-width="4" stroke-linejoin="round" stroke-linecap="round"/>
<polyline points="600,1017.8 622.3,1002.9 644.6,991 659.4,979.1 669.8,973.2" fill="none" stroke="#ff0000" stroke-width="9" stroke-linejoin="round" stroke-linecap="round"/>
<polyline points="671.3,985.1 680.2,973.2 683.2,985.1 692.1,974.7 698.1,982.1 704,973.2 712.9,985.1 723.3,973.2 729.3,979.1 733.7,970.2 747.1,943.5 730.7,979.1 741.1,973.2 748.6,967.3 757.5,970.2 766.4,959.8 788.7,933.1 776.8,979.1 785.7,967.3 793.1,970.2 799.1,979.1 812.4,970.2 803.5,989.5 818.4,988.1 831.8,980.6 852.6,973.2 865.9,958.3 863,980.6 871.9,983.6 891.2,980.6 912,986.6 926.8,994 941.7,999.9 960,1004.4" fill="none" stroke="#ff0000" stroke-width="3" stroke-linejoin="round" stroke-linecap="round"/>
<polyline points="778.3,928.6 805,918.2 822.8,919.7 837.7,916.7 846.6,922.7 858.5,906.3 864.4,924.2 871.9,918.2 882.3,913.8 891.2,919.7 904.6,913.8 897.1,928.6 926.8,927.1 947.6,933.1 960,930.1" fill="none" stroke="#000" stroke-width="3.3" stroke-linejoin="round" stroke-linecap="round"/>
<polyline points="811,942 834.7,934.6 852.6,930.1 882.3,929.4" fill="none" stroke="#000" stroke-width="3.3" stroke-linejoin="round" stroke-linecap="round" stroke-dasharray="10 5"/>
<polyline points="802.1,959.8 827.3,955.4 846.6,958.3 870.4,953.9 876.3,958.3 904.6,961.3 907.5,967.3 926.8,965.8 944.7,974.7 960,983.6" fill="none" stroke="#000" stroke-width="3.3" stroke-linejoin="round" stroke-linecap="round"/>
<polyline points="749.1,943.6 748.5,932.9 755.9,940.6 755.3,930 762.7,937.6 762.1,927 769.5,934.7 769.6,923.8 775.9,932.4 777,921.8 783.3,930.5 784.4,919.8 790.7,928.5 793.1,922.7" fill="none" stroke="#000" stroke-width="3" stroke-linejoin="round" stroke-linecap="round"/>
<polyline points="725.4,958 725,945.3 733.2,955 732.7,942.4 740.9,952.1 737.9,941.3 750.3,945 748.6,937.5" fill="none" stroke="#000" stroke-width="3.5" stroke-linejoin="round" stroke-linecap="round"/>
<polyline points="686.3,1018.7 683.8,1007.9 693.8,1012.8 691.3,1002 700.3,1007.4 700.3,996.2 709.2,1002.9 709.2,991.8 715.9,994" fill="none" stroke="#000" stroke-width="3.5" stroke-linejoin="round" stroke-linecap="round"/>
<polyline points="757.5,983.6 773.8,967.3" fill="none" stroke="#000" stroke-width="5" stroke-linejoin="round" stroke-linecap="round"/>
<polyline points="723.3,986.6 736.7,991 748.6,979.1 757.5,979.1" fill="none" stroke="#000" stroke-width="3" stroke-linejoin="round" stroke-linecap="round"/>
<polyline points="695.1,1008.9 704,1004.4 717.4,992.5" fill="none" stroke="#000" stroke-width="5" stroke-linejoin="round" stroke-linecap="round"/>
<polyline points="489.7,1087.2 504.6,1080.7" fill="none" stroke="#ff0000" stroke-width="2.5" stroke-linejoin="round" stroke-linecap="round"/>
<polyline points="537,1068 550,1056 565,1042 582,1030 600,1018" fill="none" stroke="#ff0000" stroke-width="6" stroke-linejoin="round" stroke-linecap="round"/>
<polyline points="491,1083 505,1080" fill="none" stroke="#ff0000" stroke-width="3" stroke-linejoin="round" stroke-linecap="round"/>
<polyline points="515,1079 525,1075" fill="none" stroke="#ff0000" stroke-width="3" stroke-linejoin="round" stroke-linecap="round"/>
<polyline points="463.7,1103 510,1080 560,1060.2" fill="none" stroke="#0000ff" stroke-width="1.5" stroke-linejoin="round" stroke-linecap="round"/>
<polyline points="372.6,1149.4 374.5,1143.8 378.7,1148 380.6,1142.4 384.8,1146.5 386.8,1140.9 391,1145 392.9,1139.4 397.1,1143.6 399,1138 403.2,1142.1 405.2,1136.5 409.4,1140.6 411.3,1135 415.5,1139.2 416.7,1133.9 421.9,1136.6 421.9,1130.8 427.1,1133.5 427.1,1127.7 432.3,1130.4 432.3,1124.6 437.5,1127.3 437.5,1121.5 442.7,1124.2 442.7,1118.4 447.9,1121.1 447.9,1115.3 453.1,1118 453.1,1112.2 458.3,1114.9 458.3,1109.1 463.5,1111.8 463.5,1106 468.7,1108.7 468.6,1102.9 473.9,1105.4 473.8,1099.5 479.1,1102 478.9,1096.2 484.3,1098.7 484.1,1092.8 489.4,1095.3 489.3,1089.4 494.6,1091.9 494.4,1086.1 499.7,1088.6 499.6,1082.7 504.9,1085.2 504.7,1079.3 510.1,1081.8 509.9,1076 515.2,1078.5 515.1,1072.6 519.9,1075.3 520.9,1069.5 525.6,1073 526.6,1067.2 531.3,1070.7 532.3,1064.9 537,1068.4 538,1062.6 542.7,1066.1 543.7,1060.3 548.4,1063.8 549.4,1058 554.1,1061.5 554.7,1055.8 559.9,1058.6 559.9,1052.8 565,1055.6 565.1,1049.7 570.2,1052.5 570.3,1046.7 575.4,1049.4 575.4,1043.6 580.6,1046.4 580.6,1040.6 585.7,1043.3 585.8,1037.5 590.9,1040.3 591,1034.4 596.1,1037.2 596.1,1031.4 600,1032" fill="none" stroke="#000" stroke-width="3" stroke-linejoin="round" stroke-linecap="round"/>
<polyline points="394,1135.7 395.5,1134.3 401,1129.9 402.5,1129.2 408,1124 409.5,1124.1 415,1118.2 416.5,1118.9 422,1112.4 423.5,1113.8 429,1106.7 430.5,1108.6 436,1101 437.5,1103.5 443,1095.3 444.5,1098.4 450,1090 451.5,1093.2 457,1085.5 458.5,1088.1 464,1080.9 465.5,1082.9 471,1076.3 472.5,1077.8 478,1071.4 479.5,1072.7 485,1066.4 486.5,1067.5 492,1061.4 493.5,1062.4 499,1056.4 500.5,1057.2 506,1051.4 507.5,1052.1 513,1046.4 514.5,1047 520,1041.4 521.5,1041.8 527,1036.4 528.5,1036.7 534,1031.4 535.5,1031.5 541,1026.4 542.5,1026.4 548,1021.5 549.5,1021.3 555,1016.5 556.5,1016.1 562,1011.6 563.5,1011 569,1006.4 570.5,1005.8 576,1001.3 577.5,1000.7 583,996.1 584.5,995.6 590,991 591.5,990.4 597,985.9 598.5,985.3 604,980.8 605.5,980.1 611,975.8 612.5,975 618,970.8 619.5,969.9 625,965.9 626.5,964.7 632,960.9 633.5,959.6 639,955.9" fill="none" stroke="#000" stroke-width="2.5" stroke-linejoin="round" stroke-linecap="round"/>
<polyline points="1726,1207 1733,1199 1738,1210 1746,1200 1752,1209 1760,1201 1764,1208" fill="none" stroke="#ff0000" stroke-width="2.5" stroke-linejoin="round" stroke-linecap="round"/>
<g fill="#000"><rect x="303" y="54" width="2016" height="5"/><rect x="303" y="54" width="4" height="1155"/><rect x="2320" y="55" width="3" height="1154"/><rect x="303" y="1205" width="2020" height="4"/></g>
<g clip-path="url(#cplot)"><g clip-path="url(#ctop)"><line x1="303" y1="1205" x2="1871" y2="57" stroke="#fff" stroke-width="6"/><line x1="303" y1="1205" x2="1987" y2="57" stroke="#fff" stroke-width="6"/><line x1="303" y1="1205" x2="2063" y2="57" stroke="#fff" stroke-width="6"/><line x1="302" y1="1204" x2="1864" y2="57" stroke="#000" stroke-width="1.3"/><line x1="303" y1="1202" x2="1978" y2="56" stroke="#000" stroke-width="1.6" stroke-dasharray="2.5 8.5"/><line x1="303" y1="1202" x2="2054" y2="56" stroke="#000" stroke-width="1.6" stroke-dasharray="2.5 8.5"/><line x1="303" y1="1205" x2="1871" y2="57" stroke="#000" stroke-width="4.6" stroke-dasharray="4.8 6.7"/><line x1="303" y1="1205" x2="1987" y2="57" stroke="#000" stroke-width="4.6" stroke-dasharray="4.8 6.7"/><line x1="303" y1="1205" x2="2063" y2="57" stroke="#000" stroke-width="4.6" stroke-dasharray="4.8 6.7"/></g></g>
<text x="247" y="77.7" font-size="70" text-anchor="end" letter-spacing="-2">200</text>
<text x="247" y="220.5" font-size="70" text-anchor="end" letter-spacing="-2"><tspan>1</tspan><tspan dx="-5">75</tspan></text>
<text x="247" y="363.9" font-size="70" text-anchor="end" letter-spacing="-2"><tspan>1</tspan><tspan dx="-5">50</tspan></text>
<text x="247" y="506.3" font-size="70" text-anchor="end" letter-spacing="-2"><tspan>1</tspan><tspan dx="-5">25</tspan></text>
<text x="247" y="652.5" font-size="70" text-anchor="end" letter-spacing="-2"><tspan>1</tspan><tspan dx="-5">00</tspan></text>
<text x="247" y="795.8" font-size="70" text-anchor="end" letter-spacing="-2">75</text>
<text x="247" y="939.8" font-size="70" text-anchor="end" letter-spacing="-2">50</text>
<text x="247" y="1083.3" font-size="70" text-anchor="end" letter-spacing="-2">25</text>
<text x="247" y="1228" font-size="70" text-anchor="end" letter-spacing="-2">0</text>
<text x="299" y="1328.5" font-size="70" text-anchor="middle" letter-spacing="-2">0</text>
<text x="551" y="1328.5" font-size="70" text-anchor="middle" letter-spacing="-2">20</text>
<text x="804" y="1328.5" font-size="70" text-anchor="middle" letter-spacing="-2">40</text>
<text x="1058" y="1328.5" font-size="70" text-anchor="middle" letter-spacing="-2">60</text>
<text x="1312" y="1328.5" font-size="70" text-anchor="middle" letter-spacing="-2">80</text>
<text x="1561" y="1328.5" font-size="70" text-anchor="middle" letter-spacing="-2"><tspan>1</tspan><tspan dx="-5">00</tspan></text>
<text x="1812.8" y="1328.5" font-size="70" text-anchor="middle" letter-spacing="-2"><tspan>1</tspan><tspan dx="-5">20</tspan></text>
<text x="2065.4" y="1328.5" font-size="70" text-anchor="middle" letter-spacing="-2"><tspan>1</tspan><tspan dx="-5">40</tspan></text>
<text x="2318" y="1328.5" font-size="70" text-anchor="middle" letter-spacing="-2"><tspan>1</tspan><tspan dx="-5">60</tspan></text>
<text x="347" y="162.5" font-size="74" text-anchor="start" letter-spacing="-1">1 – Cervinara</text>
<text x="345" y="248.5" font-size="74" text-anchor="start" letter-spacing="-1">2 – Sarno Lavorate</text>
<text x="345" y="335" font-size="74" text-anchor="start" letter-spacing="-1">3 – Sarno Episcopio</text>
<text x="353" y="430.8" font-size="74" text-anchor="start" letter-spacing="-1">4 – Baiano</text>
<text x="352" y="517.9" font-size="74" text-anchor="start" letter-spacing="-1">5 – Forchia</text>
<text x="352" y="603" font-size="74" text-anchor="start" letter-spacing="-1">6 – Lauro</text>
<rect x="679" y="338.5" width="22" height="14" fill="#fff"/>
<text x="1242.4" y="1441.7" font-size="78" text-anchor="start">p’ (kPa)</text>
<text x="0" y="0" font-size="78" transform="translate(97,833) rotate(-90)">q (kPa)</text>
<text x="1691" y="566" font-size="70" text-anchor="start" letter-spacing="-2">site 5</text>
<text x="2082" y="881" font-size="70" text-anchor="start" letter-spacing="-2">site 2</text>
<text x="503" y="1139.6" font-size="70" text-anchor="start" letter-spacing="-2">site 1</text>
<text x="1460.4" y="693.2" font-size="70" text-anchor="middle">4</text>
<text x="1252.4" y="733.6" font-size="70" text-anchor="middle">2</text>
<text x="1078.8" y="811" font-size="70" text-anchor="middle">5</text>
<text x="1749" y="826" font-size="70" text-anchor="middle">3</text>
<text x="1399.5" y="881.3" font-size="70" text-anchor="middle">2</text>
<text x="1136.2" y="927" font-size="70" text-anchor="middle">3</text>
<text x="1626.8" y="969" font-size="70" text-anchor="middle">6</text>
<text x="1537.5" y="987.2" font-size="70" text-anchor="middle">2</text>
<text x="873.7" y="1027" font-size="70" text-anchor="middle">5</text>
<text x="1172.3" y="1042.1" font-size="70" text-anchor="middle">4</text>
<text x="0" y="0" font-size="70" text-anchor="middle" transform="translate(1540.3,1120.2) scale(0.72,1)">1</text>
<text x="1108" y="1137" font-size="70" text-anchor="middle">6</text>
<text x="0" y="0" font-size="70" text-anchor="middle" transform="translate(1400.5,1180) scale(0.72,1)">1</text>
<text x="0" y="0" font-size="70" text-anchor="middle" transform="translate(1688.6,1180) scale(0.72,1)">1</text>
<text x="729" y="1180" font-size="70" text-anchor="middle">6</text>
<text x="849.1" y="1180" font-size="70" text-anchor="middle">3</text>
</svg></body></html>
